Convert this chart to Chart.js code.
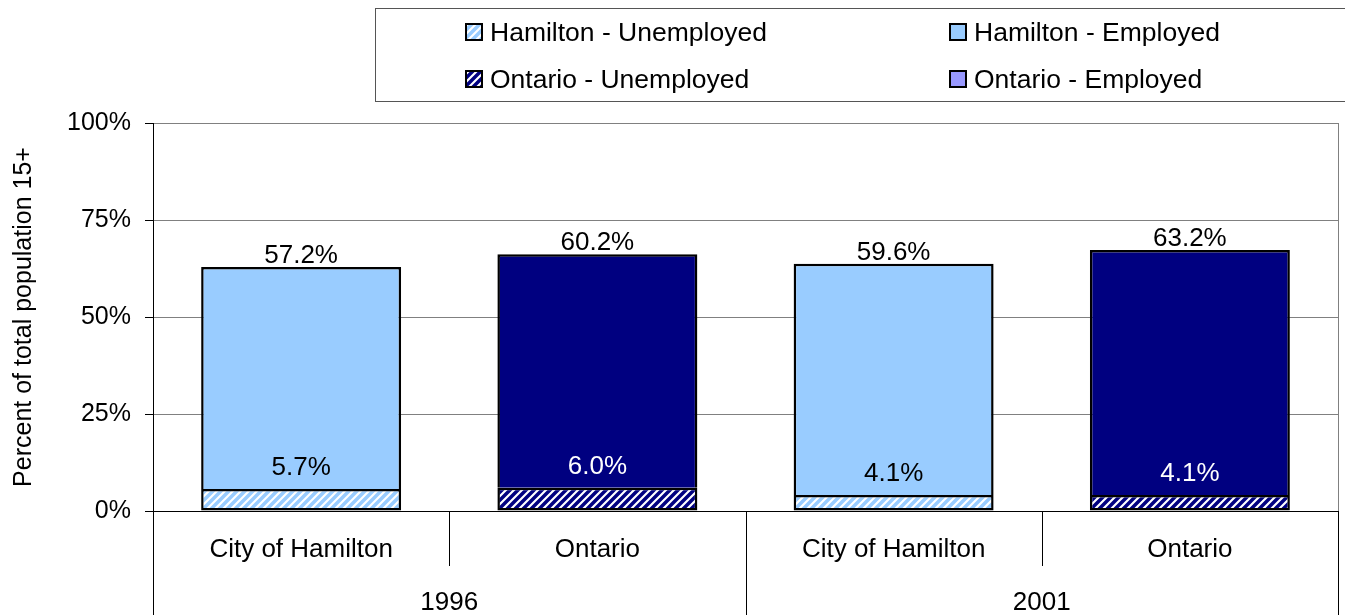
<!DOCTYPE html>
<html>
<head>
<meta charset="utf-8">
<script src="https://cdn.jsdelivr.net/npm/chart.js@4.4.0/dist/chart.umd.min.js"></script>
<style>
  html, body { margin: 0; padding: 0; background: #fff; }
</style>
</head>
<body>
<canvas id="chart" width="1345" height="615"></canvas>
<script>
const categories = ['City of Hamilton', 'Ontario', 'City of Hamilton', 'Ontario'];
const years = ['1996', '2001'];
const hamiltonUnemployed = [5.7, null, 4.1, null];
const ontarioUnemployed = [null, 6.0, null, 4.1];
const hamiltonEmployed = [57.2, null, 59.6, null];
const ontarioEmployed = [null, 60.2, null, 63.2];
const yTicks = [0, 25, 50, 75, 100];

const FONT = "'Liberation Sans', Arial, sans-serif";
Chart.defaults.font.family = FONT;
Chart.defaults.color = '#000';

let canvas = document.getElementById('chart');
let ctx = canvas.getContext('2d');

// white tile with "/" stripes
function hatch(color) {
    const c = document.createElement('canvas');
    c.width = 8; c.height = 8;
    const g = c.getContext('2d');
    g.fillStyle = '#fff';
    g.fillRect(0, 0, 8, 8);
    g.strokeStyle = color;
    g.lineWidth = 3.5;
    g.beginPath();
    g.moveTo(-2, 10); g.lineTo(10, -2);
    g.moveTo(-2, 2); g.lineTo(2, -2);
    g.moveTo(6, 10); g.lineTo(10, 6);
    g.stroke();
    return ctx.createPattern(c, 'repeat');
}

const lightBlue = '#99CCFF';
const navy = '#000080';
const hamHatch = hatch(lightBlue);
const ontHatch = hatch(navy);

const legendItems = [
    { text: 'Hamilton - Unemployed', fill: hamHatch },
    { text: 'Hamilton - Employed', fill: lightBlue },
    { text: 'Ontario - Unemployed', fill: ontHatch },
    { text: 'Ontario - Employed', fill: '#9999FF' },
];

const extras = {
    id: 'extras',
    afterDraw(chart) {
        const c = chart.ctx;
        const area = chart.chartArea;
        c.save();

        // right border of plot
        c.strokeStyle = '#808080';
        c.lineWidth = 1;
        c.beginPath();
        c.moveTo(Math.round(area.right) + 0.5, area.top);
        c.lineTo(Math.round(area.right) + 0.5, area.bottom);
        c.stroke();

        // category separators below axis
        const w = (area.right - area.left) / categories.length;
        c.strokeStyle = '#000';
        for (let i = 0; i <= categories.length; i++) {
            const x = Math.round(area.left + i * w) + 0.5;
            c.beginPath();
            c.moveTo(x, area.bottom);
            c.lineTo(x, i % 2 === 0 ? 615 : 566);
            c.stroke();
        }

        // year labels
        c.fillStyle = '#000';
        c.font = '26px ' + FONT;
        c.textAlign = 'center';
        c.textBaseline = 'middle';
        years.forEach((y, i) => {
            c.fillText(y, area.left + (i * 2 + 1) * w, 603);
        });

        // data labels
        chart.data.datasets.forEach((ds, di) => {
            const meta = chart.getDatasetMeta(di);
            ds.data.forEach((v, i) => {
                if (v == null) return;
                const bar = meta.data[i];
                const txt = v.toFixed(1) + '%';
                let y, color = '#000';
                if (ds.employed) {
                    y = bar.y - 11;
                } else {
                    y = bar.y - 21;
                    if (ds.label.startsWith('Ontario')) color = '#fff';
                }
                c.fillStyle = color;
                c.fillText(txt, bar.x, y);
            });
        });

        // legend
        c.strokeStyle = '#555';
        c.lineWidth = 1;
        c.strokeRect(375.5, 8.5, 980, 93);
        const cols = [466, 950];
        const rows = [24, 71];
        c.textAlign = 'left';
        c.font = '26.5px ' + FONT;
        legendItems.forEach((it, i) => {
            const x = cols[i % 2], y = rows[Math.floor(i / 2)];
            c.fillStyle = it.fill;
            c.fillRect(x, y, 16, 16);
            c.strokeStyle = '#000';
            c.lineWidth = 2;
            c.strokeRect(x, y, 16, 16);
            c.fillStyle = '#000';
            c.fillText(it.text, x + 24, y + 10);
        });
        c.restore();
    }
};

let chart = new Chart(ctx, {
    type: 'bar',
    data: {
        labels: categories,
        datasets: [
            { label: 'Hamilton - Unemployed', data: hamiltonUnemployed, backgroundColor: hamHatch, borderSkipped: false },
            { label: 'Ontario - Unemployed', data: ontarioUnemployed, backgroundColor: ontHatch, borderSkipped: false },
            { label: 'Hamilton - Employed', data: hamiltonEmployed, backgroundColor: lightBlue, employed: true, borderSkipped: 'start' },
            { label: 'Ontario - Employed', data: ontarioEmployed, backgroundColor: navy, employed: true, borderSkipped: 'start' },
        ].map(d => Object.assign(d, {
            borderColor: '#000',
            borderWidth: 2.5,
            categoryPercentage: 1,
            barPercentage: 0.675,
        }))
    },
    options: {
        responsive: false,
        animation: false,
        layout: { padding: { top: 123, right: 7, left: 0, bottom: 0 } },
        plugins: {
            legend: { display: false },
            tooltip: { enabled: false },
        },
        scales: {
            x: {
                stacked: true,
                grid: { display: false },
                border: { color: '#000', width: 1 },
                ticks: { font: { size: 26 }, padding: 15, maxRotation: 0, autoSkip: false },
                afterFit: s => { s.height = 104; },
            },
            y: {
                stacked: true,
                min: 0,
                max: 100,
                afterBuildTicks: s => { s.ticks = yTicks.map(v => ({ value: v })); },
                ticks: { font: { size: 25 }, padding: 14, callback: v => v + '%' },
                grid: { color: '#808080', tickColor: '#000', tickLength: 8 },
                border: { color: '#000' },
                title: {
                    display: true,
                    text: 'Percent of total population 15+',
                    font: { size: 25 },
                    padding: { top: 9, bottom: 0 },
                },
                afterFit: s => { s.width = 153; },
            }
        }
    },
    plugins: [extras]
});
</script>
</body>
</html>
